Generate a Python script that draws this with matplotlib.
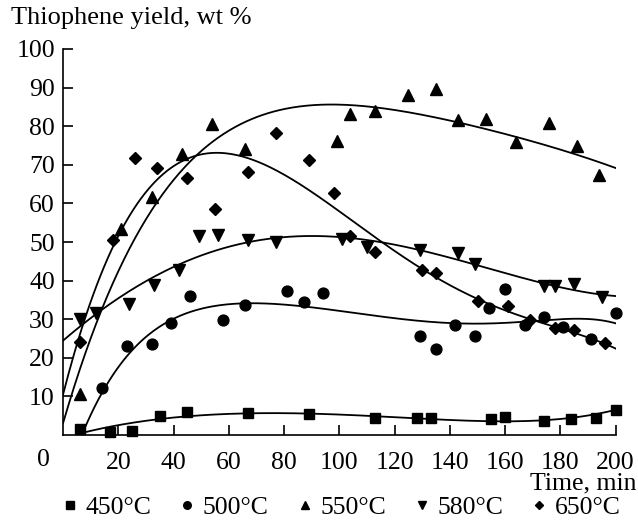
import numpy as np
import matplotlib
matplotlib.use("Agg")
import matplotlib.pyplot as plt

plt.rcParams['font.family'] = ['Liberation Serif', 'DejaVu Serif']

# measured points: time, min / thiophene yield, wt %
t450 = [6, 17, 25, 35, 45, 67, 89, 113, 128, 133, 155, 160, 174, 184, 193, 200]
y450 = [1.5, 0.9, 1.0, 4.9, 6.0, 5.6, 5.5, 4.3, 4.4, 4.5, 4.2, 4.7, 3.6, 4.1, 4.3, 6.5]

t500 = [14, 23, 32, 39, 46, 58, 66, 81, 87, 94, 129, 135, 142, 149, 154, 160, 167, 174, 181, 191, 200]
y500 = [12.1, 23.0, 23.7, 29.1, 36.0, 29.7, 33.6, 37.2, 34.5, 36.8, 25.6, 22.2, 28.5, 25.6, 32.9,
        37.9, 28.4, 30.5, 27.9, 25.0, 31.6]

t550 = [6, 21, 32, 43, 54, 66, 99, 104, 113, 125, 135, 143, 153, 164, 176, 186, 194]
y550 = [10.5, 53.4, 61.6, 72.7, 80.6, 74.2, 76.2, 83.2, 84.0, 88.1, 89.7, 81.5, 81.9, 75.9, 80.9, 74.9, 67.4]

t580 = [6, 12, 24, 33, 42, 49, 56, 67, 77, 101, 110, 129, 143, 149, 174, 178, 185, 195]
y580 = [30.1, 31.5, 34.0, 38.9, 42.7, 51.5, 51.7, 50.6, 49.9, 50.8, 48.6, 48.0, 47.2, 44.4, 38.7, 38.7, 39.0, 35.8]

t650 = [6, 18, 26, 34, 45, 55, 67, 77, 89, 98, 104, 113, 130, 135, 150, 161, 169, 178, 185, 196]
y650 = [24.1, 50.4, 71.7, 69.1, 66.6, 58.6, 68.1, 78.2, 71.3, 62.8, 51.5, 47.4, 42.7, 42.0, 34.7, 33.4,
        29.7, 27.8, 27.1, 23.9]

# trend curves
ct450 = [6, 35, 66, 89, 113, 133, 155, 174, 184, 200]
cy450 = [0.4, 4.1, 5.6, 5.8, 4.5, 4.2, 3.8, 3.8, 4.3, 6.6]

ct500 = [7.6, 14, 25.4, 39.3, 49.5, 66, 80, 93, 102, 120, 136, 150, 160, 172, 185, 200]
cy500 = [0.7, 12.1, 22.2, 29.1, 32.5, 34.6, 34.2, 32.6, 32.1, 29.7, 29.1, 29.0, 29.4, 29.8, 29.6, 29.1]

ct550 = [0, 17, 22.8, 33, 47, 55.6, 73.7, 93, 113, 143, 164, 186, 200]
cy550 = [3.3, 37.7, 45.4, 61, 71.3, 76.5, 82.9, 86, 84.7, 81.2, 76.9, 72.8, 69.1]

ct580 = [0, 24.8, 47, 67, 90, 102, 114, 126, 136, 149, 174, 195, 200]
cy580 = [24.5, 37.7, 45.4, 50.2, 51.6, 51.3, 50.2, 48, 46.7, 44.1, 39.5, 36.4, 35.9]

ct650 = [0, 6, 11.6, 15.8, 21, 33.3, 47, 55.6, 67, 78, 90, 102, 114, 126, 136, 150, 169, 185, 200]
cy650 = [11.4, 24.5, 37.7, 45.4, 53.4, 66.6, 71.3, 72.8, 71.5, 68.7, 63.5, 56.2, 50.6, 45, 40.7, 35.1,
         29.7, 26.8, 22.3]

series = [
    (t450, y450, ct450, cy450, 's', 7.6, '450°C', 5),
    (t500, y500, ct500, cy500, 'o', 7.8, '500°C', 6),
    (t550, y550, ct550, cy550, '^', 8.4, '550°C', 5),
    (t580, y580, ct580, cy580, 'v', 8.4, '580°C', 4),
    (t650, y650, ct650, cy650, 'D', 5.8, '650°C', 6),
]

fig = plt.figure(figsize=(6.38, 5.21), dpi=100)
ax = fig.add_axes([0.099, 0.165, 0.866, 0.741])

for t, y, ct, cy, m, ms, lab, deg in series:
    ax.plot(t, y, m, color='black', ms=ms, label=lab, clip_on=False)
    coef = np.polyfit(ct, cy, deg)
    tt = np.linspace(ct[0], ct[-1], 300)
    ax.plot(tt, np.polyval(coef, tt), '-', color='black', lw=1.3)

ax.set_xlim(0, 200)
ax.set_ylim(0, 100)
ax.set_xticks(range(20, 201, 20))
ax.set_yticks(range(10, 101, 10))
ax.spines['top'].set_visible(False)
ax.spines['right'].set_visible(False)
ax.spines['left'].set_linewidth(1.2)
ax.spines['bottom'].set_linewidth(1.2)
ax.tick_params(direction='in', length=7, width=1.2, labelsize=18.5, pad=6)
ax.tick_params(axis='x', pad=12)
ax.text(-0.035, -0.065, '0', transform=ax.transAxes, fontsize=18.5, ha='center', va='center')

fig.text(0.018, 0.965, 'Thiophene yield, wt %', fontsize=19, ha='left', va='center')
fig.text(0.997, 0.073, 'Time, min', fontsize=18.5, ha='right', va='center')

h, l = ax.get_legend_handles_labels()
fig.legend(h, l, loc='center', bbox_to_anchor=(0.535, 0.025), ncol=5, frameon=False,
           fontsize=18.5, markerscale=0.7, handlelength=0.6, handletextpad=0.3,
           columnspacing=1.1, borderpad=0)

fig.savefig('out.png', dpi=100)
